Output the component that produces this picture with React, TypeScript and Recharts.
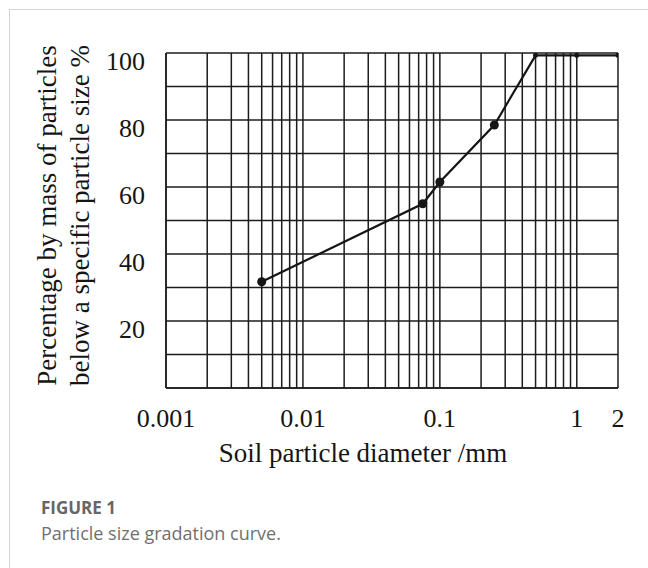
import React from 'react';
import { LineChart, Line, XAxis, YAxis, CartesianGrid, Label } from 'recharts';

// sieve sizes (mm) and percent passing
const sizes = [0.005, 0.075, 0.1, 0.25, 0.5, 1, 2];
const passing = [31.7, 55, 61.5, 78.5, 99.3, 99.3, 99.3];

// log grid lines of the semi-log paper
const xGridTicks = [
  0.001, 0.002, 0.003, 0.004, 0.005, 0.006, 0.007, 0.008, 0.009,
  0.01, 0.02, 0.03, 0.04, 0.05, 0.06, 0.07, 0.08, 0.09,
  0.1, 0.2, 0.3, 0.4, 0.5, 0.6, 0.7, 0.8, 0.9,
  1, 2,
];
const xLabelTicks = [0.001, 0.01, 0.1, 1, 2];
const xLabelText = ['0.001', '0.01', '0.1', '1', '2'];

const yGridTicks = [0, 10, 20, 30, 40, 50, 60, 70, 80, 90, 100];
const yLabelTicks = [20, 40, 60, 80, 100];

const SERIF = '"Liberation Serif", "Times New Roman", serif';
const SANS = '"Open Sans", "Noto Sans", sans-serif';
const INK = '#151515';

const chartData = sizes.map((d, i) => ({ d, p: passing[i] }));

function XTick(props: any) {
  const { x, y, payload } = props;
  const idx = xLabelTicks.findIndex((v) => Math.abs(v - payload.value) < 1e-9);
  if (idx < 0) return null;
  return (
    <text x={x} y={y + 30} textAnchor="middle" dominantBaseline="central" fontFamily={SERIF} fontSize={26} fill={INK}>
      {xLabelText[idx]}
    </text>
  );
}

function YTick(props: any) {
  const { x, y, payload } = props;
  if (!yLabelTicks.includes(payload.value)) return null;
  return (
    <text x={x - 21} y={y + 8} textAnchor="end" dominantBaseline="central" fontFamily={SERIF} fontSize={26} fill={INK}>
      {payload.value}
    </text>
  );
}

function YTitle(props: any) {
  const { viewBox } = props;
  const bx = viewBox.x - 50;
  const cy = viewBox.y + viewBox.height / 2 - 5;
  return (
    <text transform={`rotate(-90, ${bx}, ${cy})`} textAnchor="middle" fontFamily={SERIF} fontSize={27} fill={INK}>
      <tspan x={bx} y={cy}>Percentage by mass of particles</tspan>
      <tspan x={bx} y={cy + 33}>below a specific particle size %</tspan>
    </text>
  );
}

function XTitle(props: any) {
  const { viewBox } = props;
  const cx = viewBox.x + viewBox.width / 2 - 29;
  return (
    <text x={cx} y={462} textAnchor="middle" fontFamily={SERIF} fontSize={27} fill={INK}>
      Soil particle diameter /mm
    </text>
  );
}

function Dot(props: any) {
  const { cx, cy, payload } = props;
  const r = payload.p >= 99 ? 2.5 : 4.5;
  return <circle cx={cx} cy={cy} r={r} fill={INK} stroke="none" />;
}

export default function App() {
  return (
    <div style={{ position: 'absolute', left: 0, top: 0, width: 648, height: 568, overflow: 'hidden', background: '#fff' }}>
      <div style={{ position: 'absolute', left: 9, top: 9, width: 720, height: 620, border: '1px solid #d4d4d4' }} />
      <div style={{ position: 'absolute', left: 0, top: 0 }}>
        <LineChart width={648} height={480} data={chartData} margin={{ top: 53, right: 30, bottom: 32, left: 106 }}>
          <CartesianGrid stroke="#1c1c1c" strokeWidth={1.5} />
          <XAxis
            dataKey="d"
            type="number"
            scale="log"
            domain={[0.001, 2]}
            ticks={xGridTicks}
            allowDataOverflow
            interval={0}
            height={60}
            axisLine={{ stroke: '#1c1c1c', strokeWidth: 1.5 }}
            tickLine={false}
            tickSize={0}
            tickMargin={0}
            tick={<XTick />}
          >
            <Label content={<XTitle />} />
          </XAxis>
          <YAxis
            type="number"
            domain={[0, 100]}
            ticks={yGridTicks}
            interval={0}
            width={60}
            axisLine={{ stroke: '#1c1c1c', strokeWidth: 1.5 }}
            tickLine={false}
            tickSize={0}
            tickMargin={0}
            tick={<YTick />}
          >
            <Label content={<YTitle />} />
          </YAxis>
          <Line
            type="linear"
            dataKey="p"
            stroke={INK}
            strokeWidth={2.2}
            dot={<Dot />}
            activeDot={false}
            isAnimationActive={false}
          />
        </LineChart>
      </div>
      <div style={{ position: 'absolute', left: 41, top: 498, lineHeight: '20px', fontFamily: SANS, fontWeight: 700, fontSize: 17, color: '#666' }}>
        FIGURE 1
      </div>
      <div style={{ position: 'absolute', left: 41, top: 523, lineHeight: '20px', fontFamily: SANS, fontSize: 18, color: '#707070' }}>
        Particle size gradation curve.
      </div>
    </div>
  );
}
